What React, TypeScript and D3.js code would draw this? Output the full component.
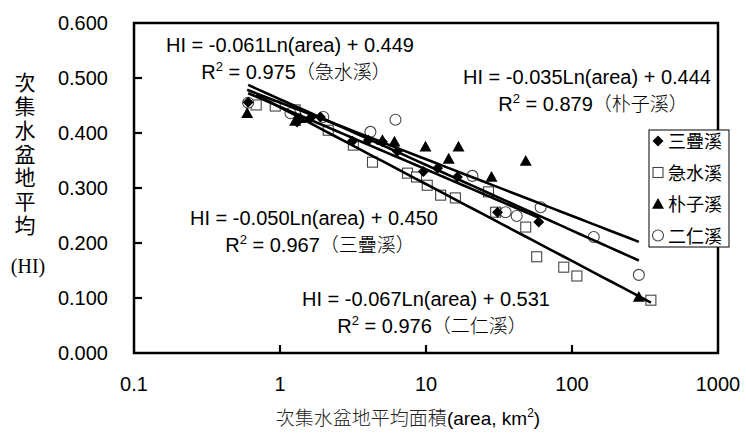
import React from 'react';
import * as d3 from 'd3';

// ---- data ----
const xTickValues = [0.1, 1, 10, 100, 1000];
const xTickLabels = ['0.1', '1', '10', '100', '1000'];
const yTickValues = [0, 0.1, 0.2, 0.3, 0.4, 0.5, 0.6];
const yTickLabels = ['0.000', '0.100', '0.200', '0.300', '0.400', '0.500', '0.600'];

const seriesNames = ['三疊溪', '急水溪', '朴子溪', '二仁溪'];

const sandieArea = [0.605, 1.31, 1.61, 1.89, 3.13, 4.03, 5.03, 6.37, 9.6, 12.0, 16.4, 30.9, 59.2];
const sandieHI = [0.456, 0.42, 0.427, 0.429, 0.385, 0.387, 0.384, 0.367, 0.33, 0.336, 0.32, 0.256, 0.238];

const jishuiArea = [0.687, 0.928, 1.27, 2.14, 3.18, 4.3, 7.47, 8.61, 10.2, 12.6, 15.9, 26.8, 30.0, 48.2, 57.3, 87.8, 108, 347];
const jishuiHI = [0.451, 0.449, 0.442, 0.405, 0.378, 0.347, 0.327, 0.32, 0.305, 0.287, 0.282, 0.293, 0.256, 0.229, 0.175, 0.156, 0.14, 0.096];

const puziArea = [0.596, 1.27, 1.38, 5.03, 6.08, 9.92, 14.3, 16.7, 28.1, 48.2, 287];
const puziHI = [0.436, 0.422, 0.427, 0.387, 0.384, 0.375, 0.353, 0.375, 0.32, 0.349, 0.102];

const errenArea = [0.605, 1.18, 1.98, 4.16, 6.18, 20.8, 35.1, 41.8, 61.0, 141, 287];
const errenHI = [0.455, 0.436, 0.429, 0.402, 0.424, 0.322, 0.256, 0.249, 0.265, 0.211, 0.142];

// equation labels as printed on the chart
const eqSlope = ['-0.050', '-0.061', '-0.035', '-0.067'];
const eqIntercept = ['0.450', '0.449', '0.444', '0.531'];
const eqR2 = ['0.967', '0.975', '0.879', '0.976'];

const W = 746;
const H = 439;

const x = d3.scaleLog().domain([0.1, 1000]).range([134, 718]);
const y = d3.scaleLinear().domain([0, 0.6]).range([353, 23]);

const NUM_FONT = "'Liberation Sans', Arial, sans-serif";
const CJK_FONT = "'Noto Sans CJK TC', 'Noto Sans CJK SC', sans-serif";

// logarithmic least-squares trend: HI = m * ln(area) + b
function logFit(area: number[], hi: number[]) {
  const lx = area.map((a) => Math.log(a));
  const mx = d3.mean(lx) as number;
  const my = d3.mean(hi) as number;
  const sxy = d3.sum(lx, (v, i) => (v - mx) * (hi[i] - my));
  const sxx = d3.sum(lx, (v) => (v - mx) * (v - mx));
  const m = sxy / sxx;
  return { m, b: my - m * mx, lo: d3.min(area) as number, hi: d3.max(area) as number };
}

function Marker({ kind, cx, cy }: { kind: number; cx: number; cy: number }) {
  if (kind === 0) {
    const s = 5.5;
    return <path d={`M${cx},${cy - s}L${cx + s},${cy}L${cx},${cy + s}L${cx - s},${cy}Z`} fill="#000" />;
  }
  if (kind === 1) {
    return <rect x={cx - 5} y={cy - 5} width={10} height={10} fill="#fff" stroke="#444" strokeWidth={1.1} />;
  }
  if (kind === 2) {
    const s = 6;
    return <path d={`M${cx},${cy - s}L${cx + s},${cy + s * 0.8}L${cx - s},${cy + s * 0.8}Z`} fill="#000" />;
  }
  return <circle cx={cx} cy={cy} r={5.5} fill="#fff" stroke="#444" strokeWidth={1.1} />;
}

export default function App() {
  const series = [
    { area: sandieArea, hi: sandieHI },
    { area: jishuiArea, hi: jishuiHI },
    { area: puziArea, hi: puziHI },
    { area: errenArea, hi: errenHI },
  ];
  const fits = series.map((s) => logFit(s.area, s.hi));

  const trendPath = (i: number) => {
    const f = fits[i];
    const pts = d3.range(0, 41).map((k) => {
      const la = Math.log(f.lo) + (Math.log(f.hi) - Math.log(f.lo)) * (k / 40);
      return [Math.exp(la), f.m * la + f.b] as [number, number];
    });
    return d3.line<[number, number]>().x((d) => x(d[0])).y((d) => y(d[1]))(pts) || '';
  };

  // label anchor points (center x, baseline y of first line)
  const labelPos = [
    [314, 225],
    [290, 52],
    [587, 84],
    [426, 306],
  ];

  const drawOrder = [1, 3, 2, 0];

  return (
    <svg width={W} height={H} style={{ position: 'absolute', left: 0, top: 0, background: '#fff' }}>
      <rect x={0} y={0} width={W} height={H} fill="#fff" />
      {/* frame */}
      <rect x={x(0.1)} y={y(0.6)} width={x(1000) - x(0.1)} height={y(0) - y(0.6)} fill="none" stroke="#000" strokeWidth={2.5} />
      {/* y ticks */}
      {yTickValues.map((v, i) => (
        <g key={'yt' + i}>
          {v > 0 && v < 0.6 && <line x1={x(0.1)} x2={x(0.1) + 8} y1={y(v)} y2={y(v)} stroke="#000" strokeWidth={2.2} />}
          <text x={108} y={y(v) + 7} textAnchor="end" fontFamily={NUM_FONT} fontSize={20} fill="#000">
            {yTickLabels[i]}
          </text>
        </g>
      ))}
      {/* x ticks */}
      {xTickValues.map((v, i) => (
        <g key={'xt' + i}>
          {v > 0.1 && v < 1000 && <line x1={x(v)} x2={x(v)} y1={y(0)} y2={y(0) - 8} stroke="#000" strokeWidth={2.2} />}
          <text x={x(v)} y={391} textAnchor="middle" fontFamily={NUM_FONT} fontSize={20} fill="#000">
            {xTickLabels[i]}
          </text>
        </g>
      ))}

      {/* markers */}
      {drawOrder.map((si) => (
        <g key={'s' + si}>
          {series[si].area.map((a, j) => (
            <Marker key={j} kind={si} cx={x(a)} cy={y(series[si].hi[j])} />
          ))}
        </g>
      ))}

      {/* trend lines */}
      {seriesNames.map((_, i) => (
        <path key={'tl' + i} d={trendPath(i)} fill="none" stroke="#000" strokeWidth={2.6} />
      ))}

      {/* trend labels */}
      {seriesNames.map((name, i) => (
        <g key={'lab' + i}>
          <text x={labelPos[i][0]} y={labelPos[i][1]} textAnchor="middle" fontFamily={NUM_FONT} fontSize={20} fill="#000">
            {`HI = ${eqSlope[i]}Ln(area) + ${eqIntercept[i]}`}
          </text>
          <text x={labelPos[i][0] + 6} y={labelPos[i][1] + 27} textAnchor="middle" fontFamily={NUM_FONT} fontSize={20} fill="#000">
            R<tspan fontSize={13} dy={-8}>2</tspan>
            <tspan dy={8}>{` = ${eqR2[i]}`}</tspan>
            <tspan fontFamily={CJK_FONT} fontWeight={300} fontSize={19}>{`（${name}）`}</tspan>
          </text>
        </g>
      ))}

      {/* legend */}
      <rect x={649} y={130} width={80} height={117} fill="#fff" stroke="#000" strokeWidth={1} />
      {seriesNames.map((name, i) => (
        <g key={'lg' + i}>
          <Marker kind={i} cx={658} cy={141 + i * 31.5} />
          <text x={668} y={141 + i * 31.5 + 7} fontFamily={CJK_FONT} fontSize={18} fill="#000">
            {name}
          </text>
        </g>
      ))}

      {/* y axis title */}
      <text
        x={25}
        y={72}
        fontFamily={CJK_FONT}
        fontSize={21}
        fill="#000"
        letterSpacing={2.7}
        style={{ writingMode: 'vertical-rl', textOrientation: 'upright' } as React.CSSProperties}
      >
        次集水盆地平均
      </text>
      <text x={28} y={273} textAnchor="middle" fontFamily="'Liberation Serif', 'Times New Roman', serif" fontSize={20} fill="#000">
        (HI)
      </text>

      {/* x axis title */}
      <text x={408} y={425} textAnchor="middle" fontSize={19} fill="#000">
        <tspan fontFamily={CJK_FONT} fontWeight={300} fill="#222">次集水盆地平均面積</tspan>
        <tspan fontFamily={NUM_FONT}>(area, km</tspan>
        <tspan fontFamily={NUM_FONT} fontSize={12} dy={-8}>2</tspan>
        <tspan fontFamily={NUM_FONT} dy={8}>)</tspan>
      </text>
    </svg>
  );
}
